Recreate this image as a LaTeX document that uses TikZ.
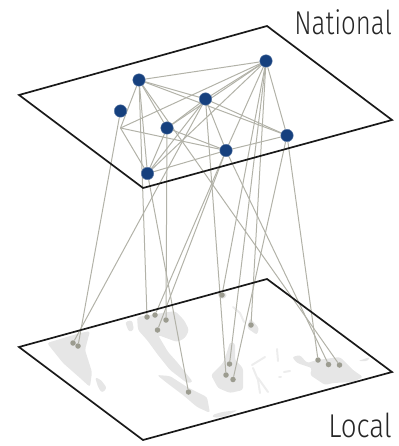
\documentclass[tikz,border=0pt]{standalone}
\usepackage{fontspec}
\newfontfamily\lab{Fira Sans Light}
\pgfdeclarelayer{land}
\pgfdeclarelayer{edges}
\pgfsetlayers{land,edges,main}
\definecolor{navy}{HTML}{16407E}
\definecolor{dotgray}{HTML}{9C9C90}
\definecolor{linkgray}{HTML}{B2B2A8}
\definecolor{landgray}{HTML}{E6E6E6}
\tikzset{
  hub/.style={circle,fill=navy,draw=navy!70!white,line width=0.4pt,minimum size=12.5pt,inner sep=0pt},
  spot/.style={circle,fill=dotgray,minimum size=5.5pt,inner sep=0pt},
  link/.style={draw=linkgray,line width=1pt},
  plane/.style={draw=black!90,line width=1.7pt,line join=miter},
  blob/.style={fill=landgray,draw=none,rounded corners=2.5pt},
  thinland/.style={draw=landgray!70!white,line width=2pt,line cap=round},
  lbl/.style={inner sep=0pt,text=black!85,font=\lab\fontsize{33}{33}\selectfont}
}
\begin{document}
\begin{tikzpicture}[x=1pt,y=-1pt]
\useasboundingbox (0,0) rectangle (398,446);
% planes
\coordinate (ta) at (19,95); \coordinate (tb) at (267,26); \coordinate (tc) at (392,120); \coordinate (td) at (143,188);
\coordinate (ba) at (19,347); \coordinate (bb) at (267,279); \coordinate (bc) at (392,372); \coordinate (bd) at (143,440);
\draw[plane] (ta) -- (tb) -- (tc) -- (td) -- cycle;
\draw[plane] (ba) -- (bb) -- (bc) -- (bd) -- cycle;
% national hubs
\node[hub] (A) at (139,80) {};
\node[hub] (B) at (266,61) {};
\node[hub] (C) at (120.5,111) {};
\node[hub] (D) at (205.5,99) {};
\node[hub] (E) at (167,128) {};
\node[hub] (F) at (226,150.5) {};
\node[hub] (G) at (287,135.5) {};
\node[hub] (H) at (147.5,173.5) {};
\coordinate (J) at (120.5,128);
% local spots
\node[spot] (l1) at (73,343) {};
\node[spot] (l2) at (78,346) {};
\node[spot] (l3) at (147,317) {};
\node[spot] (l4) at (155,315) {};
\node[spot] (l5) at (166,320) {};
\node[spot] (l6) at (157.5,330) {};
\node[spot] (l7) at (188.5,392) {};
\node[spot] (l8) at (222,295) {};
\node[spot] (l9) at (251,325) {};
\node[spot] (l10) at (229.5,364) {};
\node[spot] (l11) at (226,375) {};
\node[spot] (l12) at (233,379.5) {};
\node[spot] (l13) at (318,360) {};
\node[spot] (l14) at (328.5,364.5) {};
\node[spot] (l15) at (339.5,365) {};
\begin{pgfonlayer}{land}
  \fill[blob] (47,343) -- (80,333) -- (90,331) -- (85,350) -- (92,372) -- (90,387) -- (80,378) -- (63,363) -- cycle;
  \fill[blob] (95,377) -- (101,380) -- (107,388) -- (102,393) -- (98,387) -- cycle;
  \fill[blob] (125,322) -- (132,320) -- (134,330) -- (129,332) -- cycle;
  \fill[blob] (137,317) -- (175,311) -- (184,320) -- (189,330) -- (185,338) -- (177,342) -- (158,335) -- (168,352) -- (177,362) -- (193,382) -- (187,383) -- (170,370) -- (158,355) -- (147,340) -- (138,330) -- cycle;
  \fill[blob] (157,375) -- (170,376) -- (187,387) -- (207,397) -- (210,413) -- (197,407) -- (183,395) -- (167,383) -- cycle;
  \fill[blob] (212,415) -- (222,412) -- (238,410) -- (226,416) -- (214,418) -- cycle;
  \fill[blob] (230,342) -- (235,343) -- (235,360) -- (243,368) -- (243,390) -- (230,393) -- (218,388) -- (211,375) -- (223,363) -- (227,352) -- cycle;
  \fill[blob] (250,318) -- (259,328) -- (257,335) -- (247,328) -- cycle;
  \fill[blob] (292,357) -- (300,355) -- (307,363) -- (317,360) -- (340,357) -- (353,370) -- (363,377) -- (353,382) -- (333,383) -- (325,385) -- (310,375) -- (312,368) -- (297,363) -- cycle;
  \fill[blob] (358,361) -- (370,357) -- (368,361) -- cycle;
  \fill[blob] (217,293) -- (227,293) -- (226,298) -- (220,299) -- cycle;
  \draw[thinland] (252,365) -- (265,357);
  \draw[thinland] (253,368) -- (258,380) -- (260,393);
  \draw[thinland] (258,378) -- (268,392);
  \draw[thinland] (277,349) -- (278,361);
  \draw[thinland] (233,307) -- (240,313) -- (244,322);
  \draw[thinland] (284,372) -- (290,371);
  \draw[thinland] (279,377) -- (281,377);
\end{pgfonlayer}
\begin{pgfonlayer}{edges}
  % national links
  \foreach \a/\b in {A/B,A/D,A/G,A/E,A/H,A/J,D/G,B/D,B/E,B/F,B/G,B/H,J/B,J/F,J/H,D/E,D/F,D/H,E/H,E/F,H/F,F/G}
    \draw[link] (\a) -- (\b);
  % links down to the local plane
  \foreach \a/\b in {D/l1,C/l2,A/l3,F/l4,E/l5,F/l6,H/l7,B/l8,B/l9,B/l10,D/l11,G/l12,G/l13,F/l14,A/l15}
    \draw[link] (\a) -- (\b);
\end{pgfonlayer}
\node[lbl,anchor=base east] (nat) at (392,35) {\scalebox{.78}[1]{National}};
\node[lbl,anchor=base east] (loc) at (392,437.5) {\scalebox{.84}[1]{Local}};
\end{tikzpicture}
\end{document}
